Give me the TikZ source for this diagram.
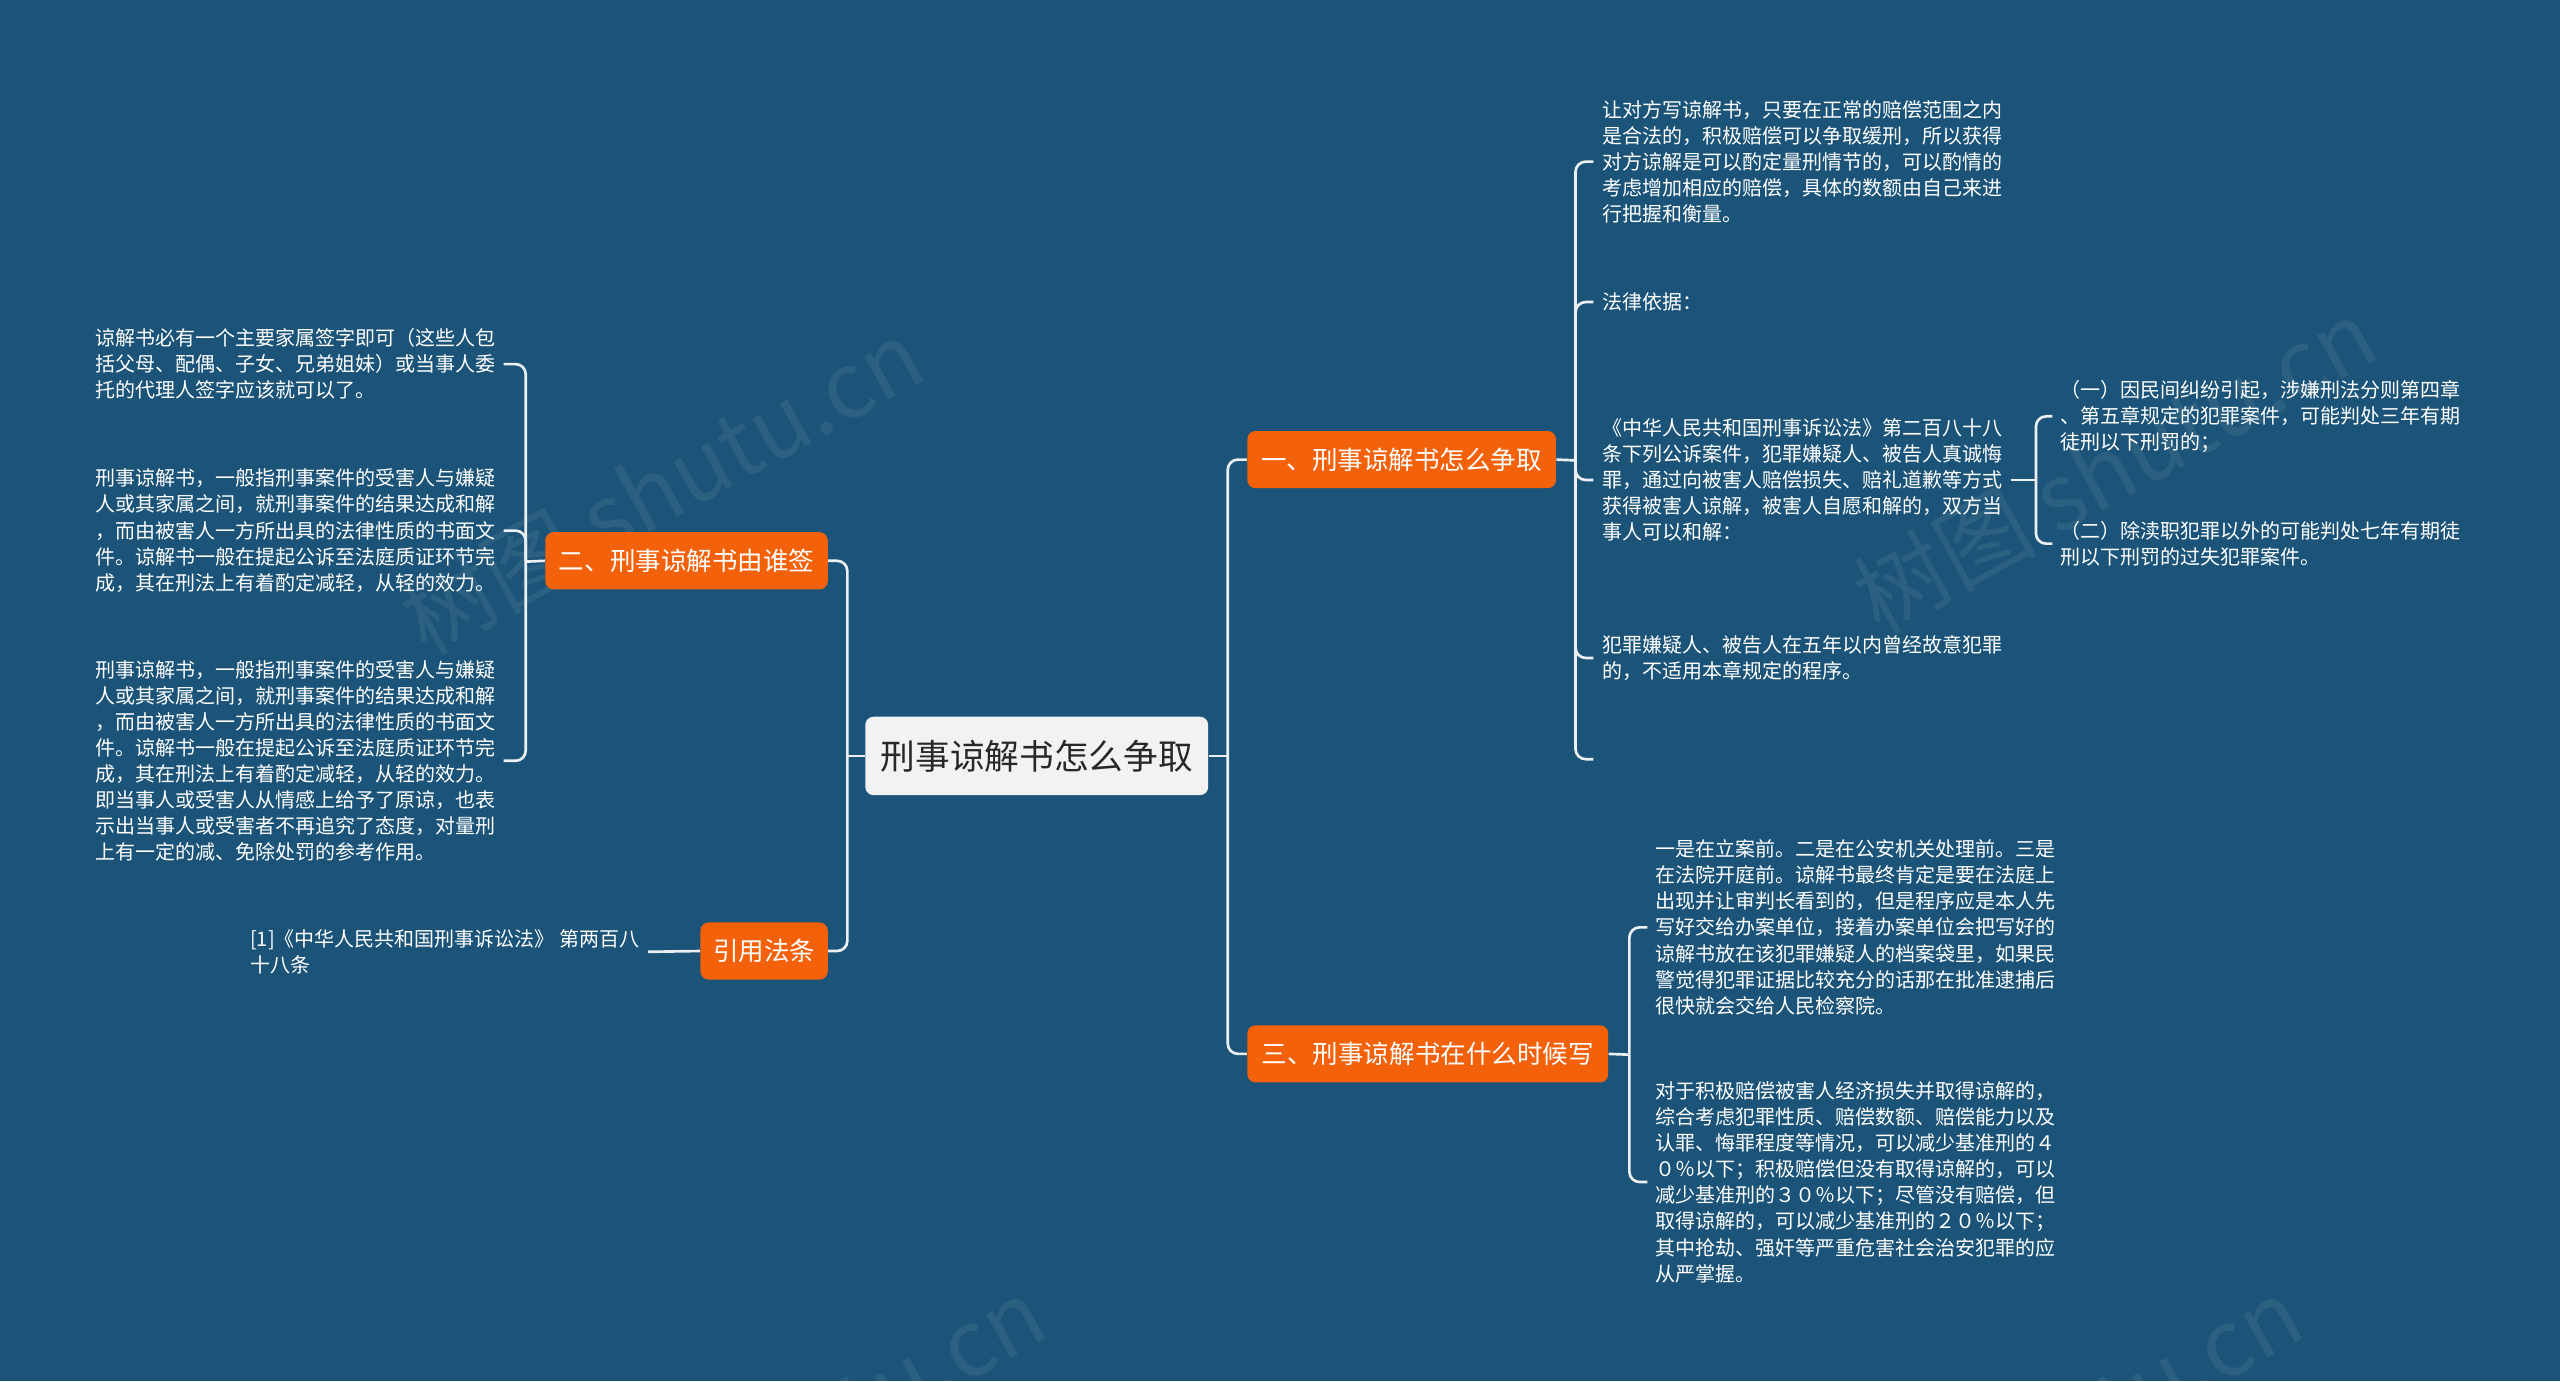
\documentclass[tikz,border=0pt]{standalone}
\usepackage{fontspec}
\setmainfont{Noto Sans CJK SC}
\usetikzlibrary{calc}
\definecolor{bg}{RGB}{27,84,120}
\definecolor{org}{RGB}{243,97,10}
\definecolor{cbox}{RGB}{242,242,242}
\definecolor{ln}{RGB}{236,240,243}
\definecolor{ctext}{RGB}{40,40,40}
\begin{document}
\begin{tikzpicture}[x=0.8pt,y=-0.8pt,
  conn/.style={draw=ln,line width=1.3pt,rounded corners=5pt},
  leaf/.style={text=white,align=left,inner xsep=4pt,inner ysep=2pt,font=\fontsize{9.8}{12.8}\selectfont},
  branch/.style={fill=org,text=white,rounded corners=4pt,minimum height=28pt,inner sep=0pt,font=\fontsize{12.5}{15}\selectfont},
  centre/.style={fill=cbox,text=ctext,rounded corners=4pt,minimum width=168pt,minimum height=38.4pt,inner sep=0pt,font=\fontsize{17}{20}\selectfont},
  wmark/.style={rotate=29,opacity=0.07,text=white,font=\fontsize{45}{45}\selectfont}]
\fill[bg] (0,0) rectangle (1568,846);
\useasboundingbox (0,0) rectangle (1568,846);
\begin{scope}
\clip (0,0) rectangle (1568,846);
\node[wmark] (w1) at (405,298) {树图 shutu.cn};
\node[wmark] (w2) at (1295,285) {树图 shutu.cn};
\node[wmark] (w3) at (480,885) {树图 shutu.cn};
\node[wmark] (w4) at (1250,885) {树图 shutu.cn};
\end{scope}

% centre and branches
\node[centre] (c) at (635,463) {刑事谅解书怎么争取};
\node[branch,minimum width=151.2pt] (b1) at (858.5,281.5) {一、刑事谅解书怎么争取};
\node[branch,minimum width=176.8pt] (b3) at (874.5,645.5) {三、刑事谅解书在什么时候写};
\node[branch,minimum width=138.4pt] (b2) at (420.5,343.5) {二、刑事谅解书由谁签};
\node[branch,minimum width=62.4pt] (b4) at (468,582.5) {引用法条};

% branch 1 leaves
\node[leaf,anchor=west] (r1) at (976,99) {让对方写谅解书，只要在正常的赔偿范围之内\\是合法的，积极赔偿可以争取缓刑，所以获得\\对方谅解是可以酌定量刑情节的，可以酌情的\\考虑增加相应的赔偿，具体的数额由自己来进\\行把握和衡量。};
\node[leaf,anchor=west] (r2) at (976,185) {法律依据：};
\node[leaf,anchor=west] (r3) at (976,294) {《中华人民共和国刑事诉讼法》第二百八十八\\条下列公诉案件，犯罪嫌疑人、被告人真诚悔\\罪，通过向被害人赔偿损失、赔礼道歉等方式\\获得被害人谅解，被害人自愿和解的，双方当\\事人可以和解：};
\node[leaf,anchor=west] (r4) at (976,403) {犯罪嫌疑人、被告人在五年以内曾经故意犯罪\\的，不适用本章规定的程序。};
\coordinate (e1) at (976,465);

\node[leaf,anchor=west] (s1) at (1257,255) {（一）因民间纠纷引起，涉嫌刑法分则第四章\\、第五章规定的犯罪案件，可能判处三年有期\\徒刑以下刑罚的；};
\node[leaf,anchor=west] (s2) at (1257,333) {（二）除渎职犯罪以外的可能判处七年有期徒\\刑以下刑罚的过失犯罪案件。};

% branch 3 leaves
\node[leaf,anchor=west] (t1) at (1009,568) {一是在立案前。二是在公安机关处理前。三是\\在法院开庭前。谅解书最终肯定是要在法庭上\\出现并让审判长看到的，但是程序应是本人先\\写好交给办案单位，接着办案单位会把写好的\\谅解书放在该犯罪嫌疑人的档案袋里，如果民\\警觉得犯罪证据比较充分的话那在批准逮捕后\\很快就会交给人民检察院。};
\node[leaf,anchor=west] (t2) at (1009,724) {对于积极赔偿被害人经济损失并取得谅解的，\\综合考虑犯罪性质、赔偿数额、赔偿能力以及\\认罪、悔罪程度等情况，可以减少基准刑的４\\０％以下；积极赔偿但没有取得谅解的，可以\\减少基准刑的３０％以下；尽管没有赔偿，但\\取得谅解的，可以减少基准刑的２０％以下；\\其中抢劫、强奸等严重危害社会治安犯罪的应\\从严掌握。};

% branch 2 leaves
\node[leaf,anchor=west] (l1) at (53,223) {谅解书必有一个主要家属签字即可（这些人包\\括父母、配偶、子女、兄弟姐妹）或当事人委\\托的代理人签字应该就可以了。};
\node[leaf,anchor=west] (l2) at (53,325) {刑事谅解书，一般指刑事案件的受害人与嫌疑\\人或其家属之间，就刑事案件的结果达成和解\\，而由被害人一方所出具的法律性质的书面文\\件。谅解书一般在提起公诉至法庭质证环节完\\成，其在刑法上有着酌定减轻，从轻的效力。};
\node[leaf,anchor=west] (l3) at (53,466) {刑事谅解书，一般指刑事案件的受害人与嫌疑\\人或其家属之间，就刑事案件的结果达成和解\\，而由被害人一方所出具的法律性质的书面文\\件。谅解书一般在提起公诉至法庭质证环节完\\成，其在刑法上有着酌定减轻，从轻的效力。\\即当事人或受害人从情感上给予了原谅，也表\\示出当事人或受害者不再追究了态度，对量刑\\上有一定的减、免除处罚的参考作用。};

% branch 4 leaf
\node[leaf,anchor=west] (ref1) at (148,583) {[1]《中华人民共和国刑事诉讼法》 第两百八\\十八条};

% spine coordinates
\coordinate (m1) at (752,463);
\coordinate (m2) at (519,463);
\coordinate (k1) at (965,282);
\coordinate (k2) at (1247,294);
\coordinate (k3) at (998,646);
\coordinate (k4) at (322,344);

% connectors
\draw[conn] (c.east) -- (m1);
\draw[conn] (m1) |- (b1.west);
\draw[conn] (m1) |- (b3.west);
\draw[conn] (c.west) -- (m2);
\draw[conn] (m2) |- (b2.east);
\draw[conn] (m2) |- (b4.east);

\draw[conn] (b1.east) -- (k1);
\draw[conn] (k1) |- (r1.west);
\draw[conn] (k1) |- (r2.west);
\draw[conn] (k1) |- (r3.west);
\draw[conn] (k1) |- (r4.west);
\draw[conn] (k1) |- (e1);

\draw[conn] (r3.east) -- (k2);
\draw[conn] (k2) |- (s1.west);
\draw[conn] (k2) |- (s2.west);

\draw[conn] (b3.east) -- (k3);
\draw[conn] (k3) |- (t1.west);
\draw[conn] (k3) |- (t2.west);

\draw[conn] (b2.west) -- (k4);
\draw[conn] (k4) |- (l1.east);
\draw[conn] (k4) |- (l2.east);
\draw[conn] (k4) |- (l3.east);

\draw[conn] (ref1.east) -- (b4.west);
\end{tikzpicture}
\end{document}
